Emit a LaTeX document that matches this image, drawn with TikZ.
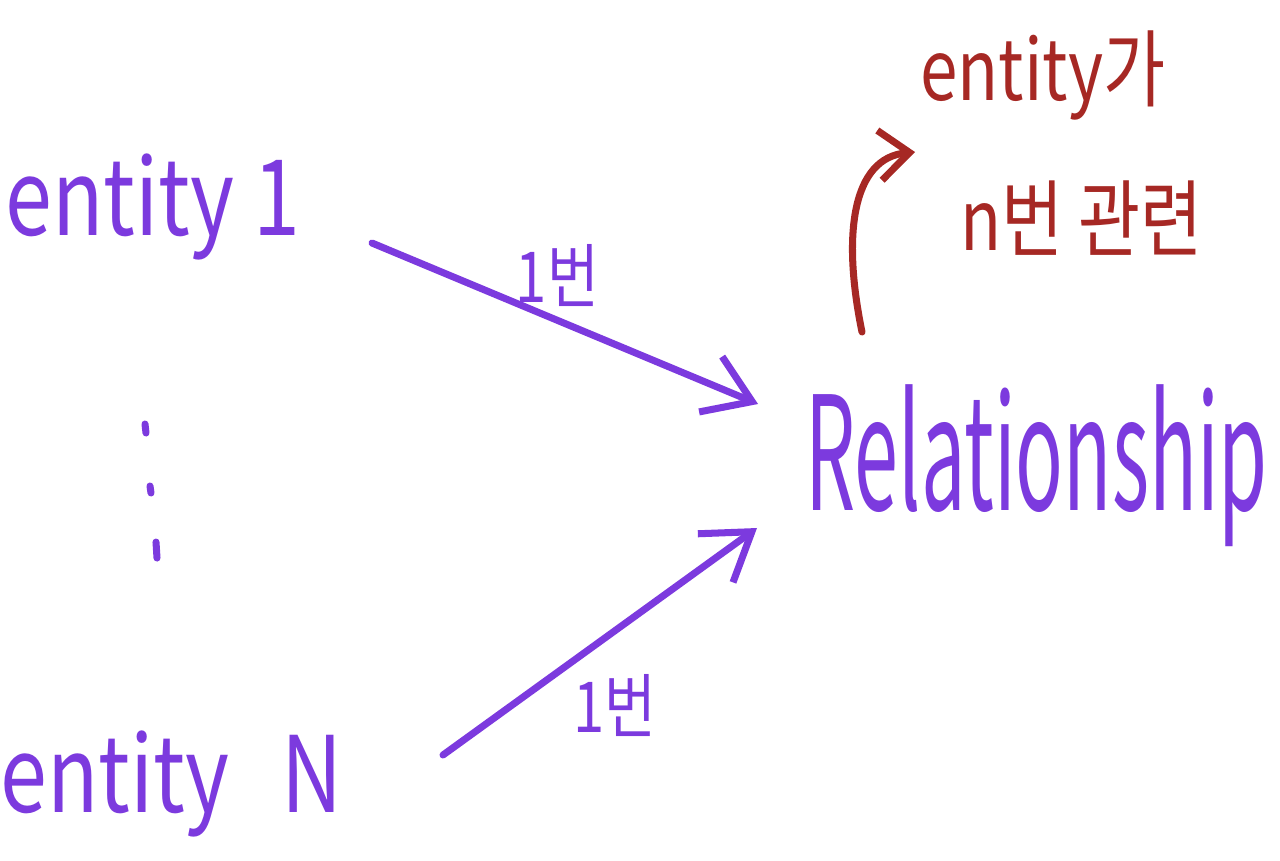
\documentclass[tikz,border=0pt]{standalone}
\usepackage{fontspec}
\usepackage{tikz}
\usetikzlibrary{arrows.meta,positioning,calc}
\usepackage{xcolor}
\newfontfamily\handfont[FakeStretch=0.8]{Noto Sans CJK KR}
\newfontfamily\narrowfont[FakeStretch=0.5]{Noto Sans CJK KR}
\definecolor{penpurple}{RGB}{124, 58, 222}
\definecolor{penred}{RGB}{166, 40, 36}

\begin{document}
\begin{tikzpicture}[x=0.02cm, y=-0.02cm, >={Straight Barb[length=9mm,width=12mm]}]
    \tikzstyle{entitytext} = [penpurple, inner sep=0, anchor=base west, font=\handfont\fontsize{60}{60}\selectfont]
    \tikzstyle{reltext} = [penpurple, inner sep=0, anchor=base west, font=\narrowfont\fontsize{90}{90}\selectfont]
    \tikzstyle{notetext} = [penred, inner sep=0, anchor=base west, font=\handfont\fontsize{48}{48}\selectfont]
    \tikzstyle{countlabel} = [penpurple, inner sep=0, font=\handfont\fontsize{40}{40}\selectfont]
    \tikzstyle{link} = [->, penpurple, line width=4pt, line cap=round]
    \tikzstyle{notelink} = [-{Straight Barb[length=6mm,width=10mm]}, penred, line width=4pt, line cap=round]

    \useasboundingbox (0,0) rectangle (1280,860);

    \node [entitytext] (ent1) at (5,235) {entity 1};
    \node [entitytext] (entN) at (0,812) {entity\hspace{0.5em}N};
    \node [reltext] (rel) at (805,510) {Relationship};
    \node [notetext] (noteA) at (920,100) {entity가};
    \node [notetext] (noteB) at (960,250) {n번 관련};

    % dots between the entities
    \foreach \px/\py/\len in {145/424/9, 150/486/7, 156/542/16}
        \draw [penpurple, line width=4pt, line cap=round] (\px,\py) -- ++(1,\len);

    \coordinate (in1) at (372,243);
    \coordinate (out1) at (758,404);
    \coordinate (inN) at (443,755);
    \coordinate (outN) at (757,528);
    \coordinate (relTop) at (862,332);
    \coordinate (noteTip) at (915,152);

    \draw [link] (in1) -- (out1) node[countlabel, pos=0.4, anchor=base west, xshift=-8pt, yshift=3pt] (lab1) {1번};
    \draw [link] (inN) -- (outN) node[countlabel, pos=0.45, anchor=north west, xshift=-8pt, yshift=-10pt] (labN) {1번};
    \draw [notelink] (relTop) .. controls (842,235) and (852,158) .. (noteTip);
\end{tikzpicture}
\end{document}
